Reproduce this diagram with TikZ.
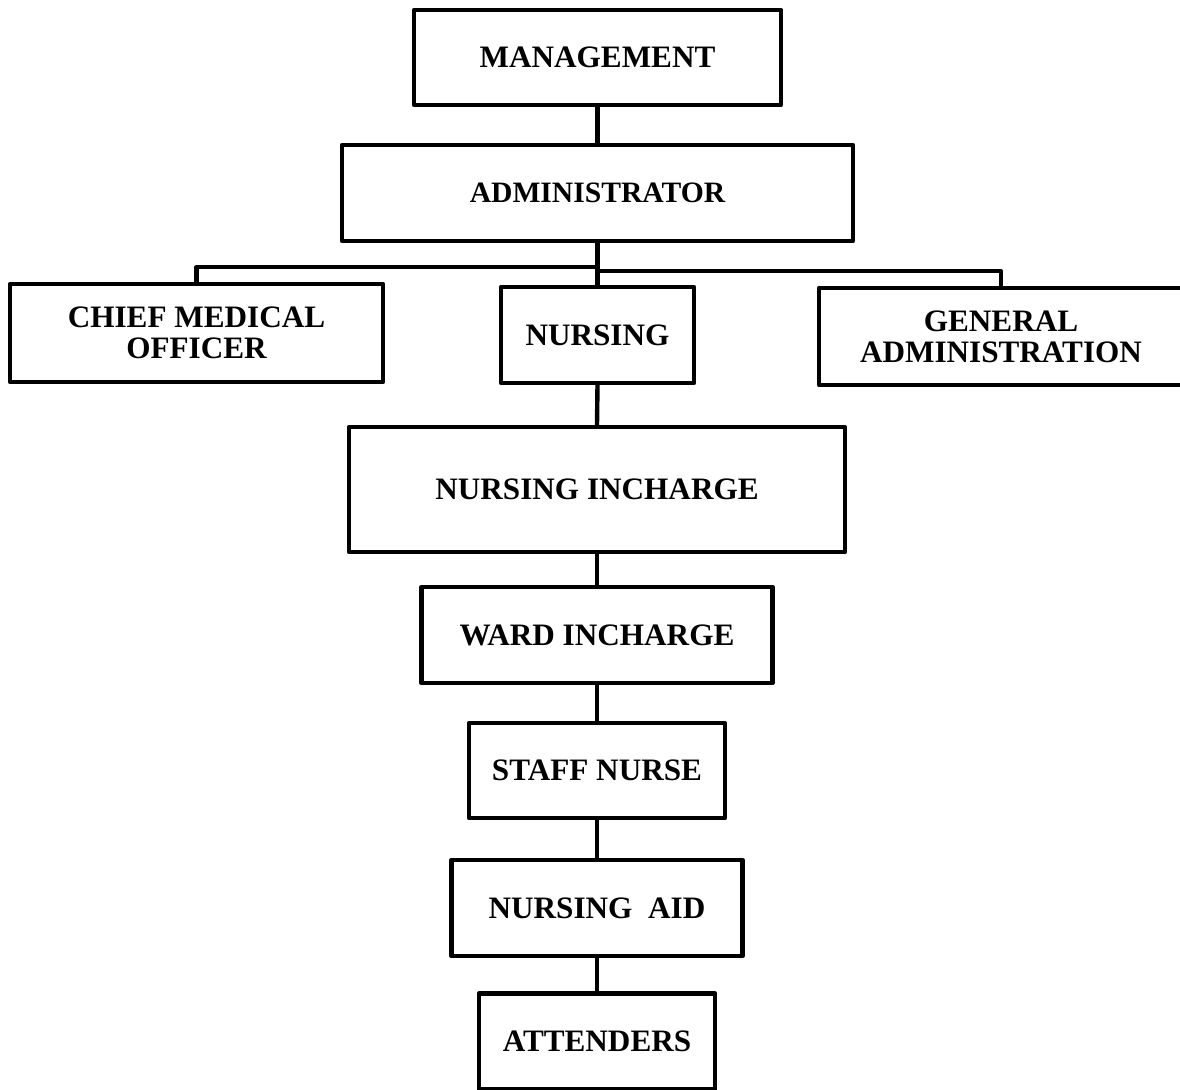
\documentclass[tikz,border=0pt]{standalone}
\usepackage{fontspec}
\setmainfont{Liberation Serif}
\usetikzlibrary{calc}
\begin{document}
\begin{tikzpicture}[x=0.5pt,y=-0.5pt,
  orgbox/.style={draw=black,line width=2.2pt,line join=round,fill=white,
    inner sep=0pt,align=center,
    font=\fontsize{15.6}{15.5}\selectfont\bfseries},
  link/.style={draw=black,line width=2.2pt,line join=round}]
  \clip (0,0) rectangle (1180,1090);
  \fill[white] (0,0) rectangle (1180,1090);

  % boxes: centre, width, height in pixel units
  \node[orgbox,minimum width=183.5pt,minimum height=47.5pt] (mg) at (597.5,57.5) {MANAGEMENT};
  \node[orgbox,minimum width=255.5pt,minimum height=48pt,
        font=\fontsize{14.8}{15.5}\selectfont\bfseries] (ad) at (597.5,193) {ADMINISTRATOR};
  \node[orgbox,minimum width=186.5pt,minimum height=49pt] (cmo) at (196.5,333) {CHIEF MEDICAL\\OFFICER};
  \node[orgbox,minimum width=96.5pt,minimum height=48pt] (nu) at (597.5,335) {NURSING};
  \node[orgbox,minimum width=182pt,minimum height=48.5pt] (ga) at (1001,336.5) {GENERAL\\ADMINISTRATION};
  \node[orgbox,minimum width=248pt,minimum height=62.5pt] (ni) at (597,489.5) {NURSING INCHARGE};
  \node[orgbox,minimum width=175.5pt,minimum height=48pt] (wi) at (597,635) {WARD INCHARGE};
  \node[orgbox,minimum width=128pt,minimum height=47.5pt] (sn) at (597,770.5) {STAFF NURSE};
  \node[orgbox,minimum width=145.5pt,minimum height=48pt] (na) at (597,908) {NURSING\ \ AID};
  \node[orgbox,minimum width=118pt,minimum height=48pt] (at) at (597,1041.5) {ATTENDERS};

  % vertical chain
  \draw[link] (mg.south) -- (ad.north);
  \draw[link] (ad.south) -- (nu.north);
  \draw[link] (nu.south) -- (ni.north);
  \draw[link] (ni.south) -- (wi.north);
  \draw[link] (wi.south) -- (sn.north);
  \draw[link] (sn.south) -- (na.north);
  \draw[link] (na.south) -- (at.north);

  % side branches from the administrator stem
  \coordinate (jl) at ($(ad.south)+(0,24)$);
  \coordinate (jr) at ($(ad.south)+(0,28)$);
  \draw[link] (jl) -| (cmo.north);
  \draw[link] (jr) -| (ga.north);
\end{tikzpicture}
\end{document}
